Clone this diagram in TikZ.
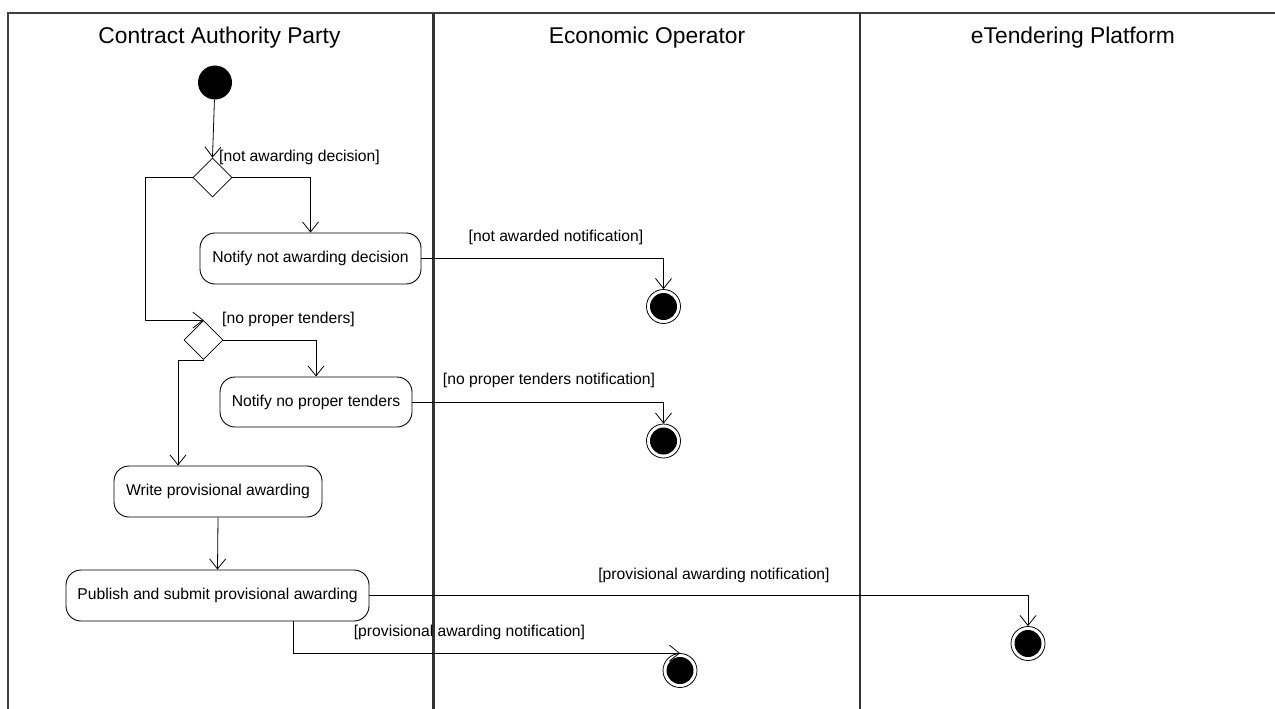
\documentclass[tikz,border=0pt]{standalone}
\usepackage{fontspec}
\setmainfont{Liberation Sans}
\usetikzlibrary{arrows.meta,shapes.geometric,calc}
\begin{document}
\begin{tikzpicture}[x=1pt,y=-1pt,
  every node/.style={font=\fontsize{15.7}{18}\selectfont},
  lanehead/.style={font=\fontsize{22.8}{26}\selectfont},
  lane/.style={draw=black!80,line width=2.9pt},
  frame/.style={draw=black!75,line width=1.4pt},
  act/.style={draw,line width=0.9pt,rounded corners=15pt,inner sep=0pt},
  dec/.style={draw,diamond,aspect=1,minimum width=39pt,minimum height=39pt,inner sep=0pt,line width=0.8pt},
  startnode/.style={circle,fill=black,minimum size=34pt,inner sep=0pt},
  endnode/.style={circle,draw,line width=0.8pt,minimum size=34pt,inner sep=0pt,
    path picture={\fill (path picture bounding box.center) circle (13.5pt);}},
  flow/.style={draw,line width=0.8pt,-{Straight Barb[length=10pt,width=16pt,line width=0.8pt]}},
  guard/.style={inner sep=0pt}]
\useasboundingbox (0,0) rectangle (1275,709);
% frame and lanes
\draw[frame] (8,709) -- (8,13) -- (1275,13);
\draw[lane] (433.5,13) -- (433.5,709);
\draw[lane] (860,13) -- (860,709);
\node[lanehead] (h1) at (219.5,38) {Contract Authority Party};
\node[lanehead] (h2) at (647,38) {Economic Operator};
\node[lanehead] (h3) at (1073,38) {eTendering Platform};
% nodes
\node[startnode] (s) at (215,82.5) {};
\node[dec] (d1) at (212.5,177.5) {};
\node[act,minimum width=221pt,minimum height=51pt] (n1) at (310.5,258.5) {Notify not awarding decision};
\node[dec] (d2) at (203.5,340) {};
\node[act,minimum width=192pt,minimum height=50pt] (n2) at (316,402) {Notify no proper tenders};
\node[act,minimum width=208pt,minimum height=51pt] (wp) at (218,491.5) {Write provisional awarding};
\node[act,minimum width=303pt,minimum height=51pt] (pub) at (217.5,595.5) {Publish and submit provisional awarding};
\node[endnode] (e1) at (663.5,306.5) {};
\node[endnode] (e2) at (663.5,441) {};
\node[endnode] (e3) at (1028,643.5) {};
\node[endnode] (e4) at (680,670.5) {};
\coordinate (c1) at (145,0);
\coordinate (c2) at (178,0);
\coordinate (c3) at (293,0);
% flows
\draw[flow] (s) -- (d1.north);
\draw[flow] (d1.east) -| (n1.north);
\draw[flow] (d1.west) -| (c1 |- d2.north) -- (d2.north);
\draw[flow] (d2.east) -| (n2.north);
\draw[flow] (d2.south) -| (c2 |- wp.north);
\draw[flow] (wp.south) -- (pub.north);
\draw[flow] (n1.east) -| (e1.north);
\draw[flow] (n2.east) -| (e2.north);
\draw[flow] (pub.east) -| (e3.north);
\draw[flow] (c3 |- pub.south) |- (e4.north);
% guards
\node[guard,anchor=west] (g1) at (219,157) {[not awarding decision]};
\node[guard] (g2) at (556,237) {[not awarded notification]};
\node[guard,anchor=west] (g3) at (222,319) {[no proper tenders]};
\node[guard] (g4) at (549,380) {[no proper tenders notification]};
\node[guard] (g5) at (714,575) {[provisional awarding notification]};
\node[guard] (g6) at (469.5,632) {[provisional awarding notification]};
\end{tikzpicture}
\end{document}
